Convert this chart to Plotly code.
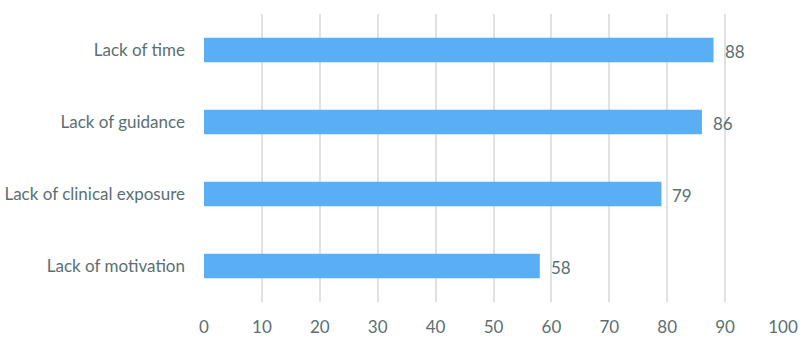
import plotly.graph_objects as go

categories = ["Lack of motivation", "Lack of clinical exposure", "Lack of guidance", "Lack of time"]
values = [58, 79, 86, 88]
tick_vals = [0, 10, 20, 30, 40, 50, 60, 70, 80, 90, 100]

text_color = "#5b6f70"
bar_color = "#5aaef3"
font_family = "Lato, 'Open Sans', sans-serif"

fig = go.Figure()
fig.add_trace(go.Bar(
    y=categories, x=values, orientation="h",
    marker=dict(color=bar_color, line=dict(width=0)),
    width=0.34,
    hoverinfo="skip",
))

for c, v in zip(categories, values):
    fig.add_annotation(x=v, y=c, text=str(v), showarrow=False,
                       xanchor="left", xshift=9, yshift=-1,
                       font=dict(size=17, color=text_color, family=font_family))

fig.update_layout(
    width=803, height=341,
    margin=dict(l=204, r=20, t=14, b=39, autoexpand=False),
    paper_bgcolor="white", plot_bgcolor="white",
    showlegend=False,
    font=dict(family=font_family, color=text_color, size=17),
    xaxis=dict(range=[0, 100], tickvals=tick_vals, showgrid=True,
               gridcolor="#dde3e4", gridwidth=1.5, zeroline=False,
               showline=False, ticks="", tickfont=dict(size=17, color=text_color),
               ticklabelstandoff=13, automargin=False),
    yaxis=dict(showgrid=False, zeroline=False, showline=False, ticks="",
               ticklabelstandoff=18, tickfont=dict(size=17, color=text_color),
               automargin=False),
)

fig.write_html("out.html")
